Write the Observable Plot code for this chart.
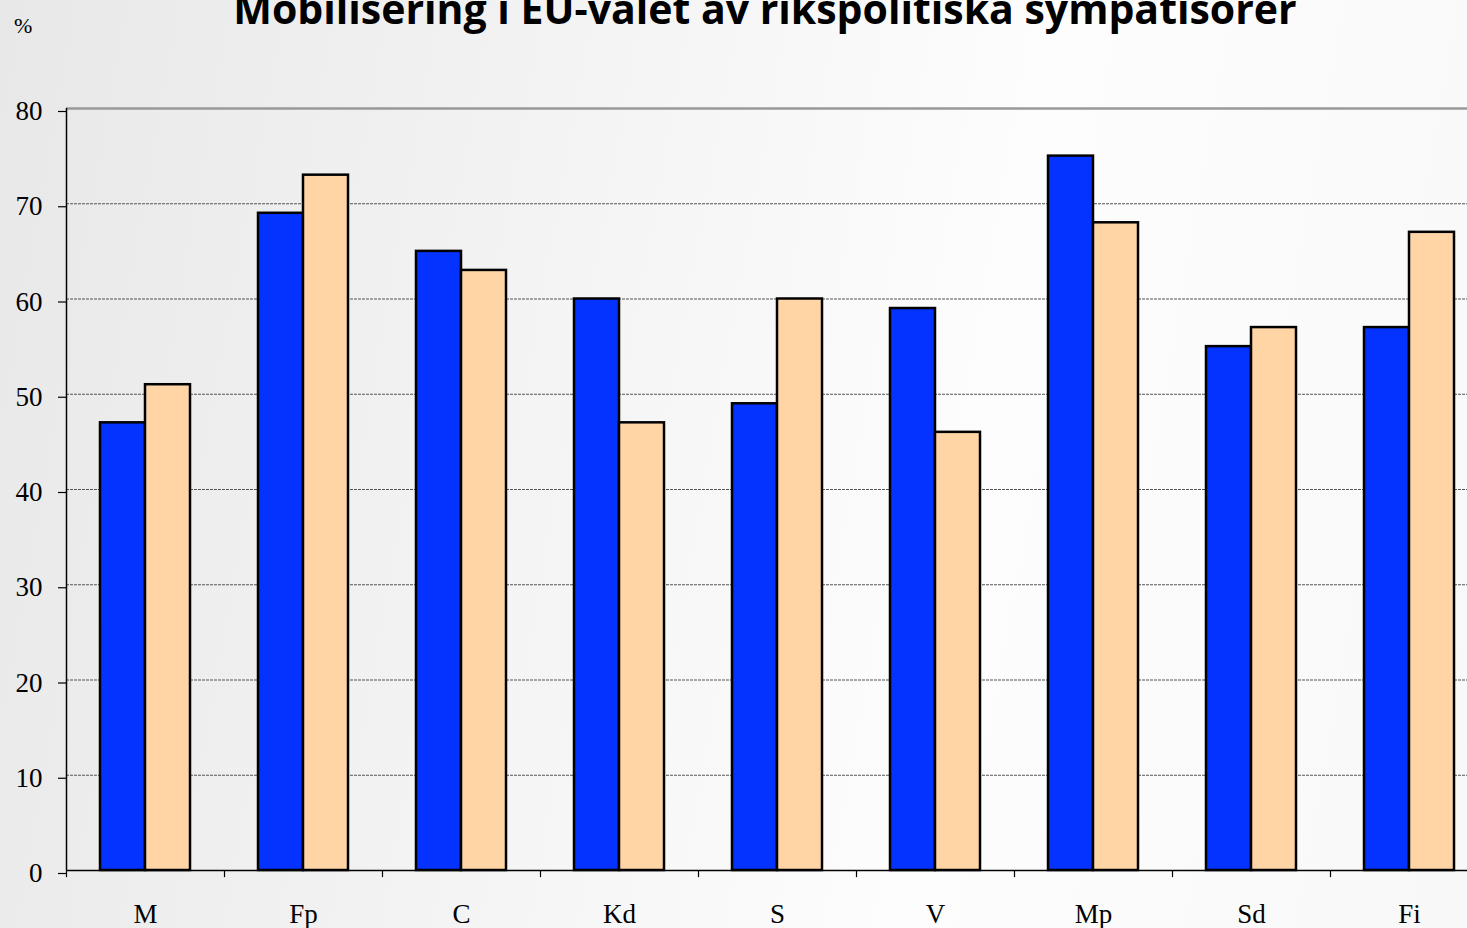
<!DOCTYPE html>
<html>
<head>
<meta charset="utf-8">
<script src="https://cdn.jsdelivr.net/npm/d3@7"></script>
<script src="https://cdn.jsdelivr.net/npm/@observablehq/plot@0.6"></script>
<style>
  html, body { margin: 0; padding: 0; overflow: hidden; width: 1467px; height: 928px; }
  body { background: linear-gradient(100deg, #e8e8e8 0%, #f3f3f3 35%, #fdfdfd 65%, #f8f8f8 100%); position: relative; }
  #title { position: absolute; left: 0; width: 1530px; top: -12px; text-align: center;
           font-family: "Open Sans", sans-serif; font-weight: 700; font-size: 41px; line-height: 41px; color: #000; white-space: nowrap; }
  #unit { position: absolute; left: 14px; top: 15px; font-family: "Liberation Serif", serif; font-size: 22px; line-height: 22px; color: #000; }
  #chart { position: absolute; left: 0; top: 0; width: 1490px; }
  #chart svg { max-width: none !important; }
</style>
</head>
<body>
<div id="chart"></div>
<div id="title">Mobilisering i EU-valet av rikspolitiska sympatisörer</div>
<div id="unit">%</div>
<script>
const parties = ["M", "Fp", "C", "Kd", "S", "V", "Mp", "Sd", "Fi"];
const seriesA = [47, 69, 65, 60, 49, 59, 75, 55, 57];
const seriesB = [51, 73, 63, 47, 60, 46, 68, 57, 67];
const yTicks = [0, 10, 20, 30, 40, 50, 60, 70, 80];

const data = parties.map((p, i) => ({party: p, a: seriesA[i], b: seriesB[i]}));
const serif = "Liberation Serif, Times New Roman, serif";

const chart = Plot.plot({
  width: 1490,
  height: 928,
  marginLeft: 66,
  marginRight: 2,
  marginTop: 108,
  marginBottom: 58,
  style: {background: "transparent", color: "#000", fontFamily: serif, maxWidth: "none"},
  x: {type: "band", domain: parties, padding: 0},
  y: {domain: [0, 80]},
  marks: [
    Plot.ruleY(yTicks.filter(t => t > 0 && t < 80), {stroke: "#555", strokeWidth: 1, strokeDasharray: "3,1"}),
    Plot.ruleY([80], {stroke: "#999", strokeWidth: 2.5}),
    Plot.barY(data, {x: "party", y: "a", fill: "#0433FF", stroke: "#000", strokeWidth: 2.5, insetLeft: 34, insetRight: 79}),
    Plot.barY(data, {x: "party", y: "b", fill: "#FFD5A6", stroke: "#000", strokeWidth: 2.5, insetLeft: 79, insetRight: 34}),
    Plot.ruleX(parties, {x: d => d, dx: -79, y1: 0, y2: -0.75, stroke: "#000", strokeWidth: 1.2}),
    Plot.ruleY([0], {stroke: "#000", strokeWidth: 1.5}),
    Plot.ruleX([parties[0]], {x: d => d, dx: -79, y1: 0, y2: 80, stroke: "#000", strokeWidth: 1.5}),
    Plot.axisY({ticks: yTicks, tickSize: 8, tickPadding: 16, fontSize: 27, fontFamily: serif, label: null, dy: 3, strokeWidth: 1.2}),
    Plot.axisX({tickSize: 0, tickPadding: 33, fontSize: 27, fontFamily: serif, label: null})
  ]
});
document.getElementById("chart").appendChild(chart);
</script>
</body>
</html>
